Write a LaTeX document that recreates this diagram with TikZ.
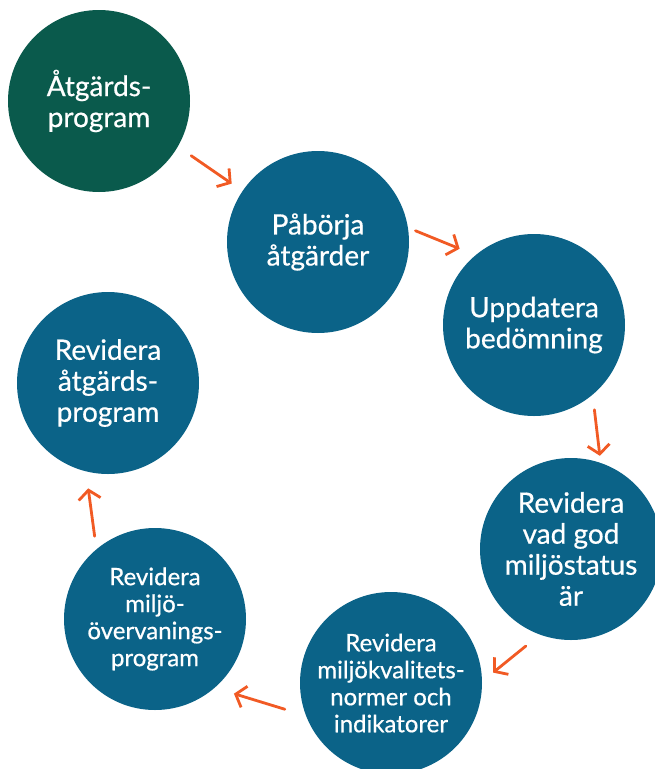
\documentclass[tikz,border=0pt]{standalone}
\usepackage{fontspec}
\setmainfont{Lato}
\newfontfamily\stepfont{Lato}[BoldFont=Lato, BoldFeatures={FakeBold=0.6}]
\usepackage{tikz}
\usetikzlibrary{arrows.meta}
\definecolor{ringgreen}{HTML}{0A5A4C}
\definecolor{ringblue}{HTML}{0B6388}
\definecolor{ringorange}{HTML}{F15A24}
\tikzset{
stepcircle/.style={circle, fill=ringblue, text=white, minimum size=182pt, inner sep=0pt,
  align=center, font=\stepfont\bfseries\fontsize{28}{31}\selectfont},
smallstep/.style={stepcircle, font=\stepfont\bfseries\fontsize{24}{27}\selectfont},
flowarrow/.style={ringorange, line width=2.8pt, line cap=round,
  -{Straight Barb[length=9pt, width=22pt, line width=2.8pt]}}
}

\begin{document}
\begin{tikzpicture}[x=1pt, y=-1pt]

\useasboundingbox (0,0) rectangle (654,769);

\node [stepcircle, fill=ringgreen] (prog) at (99,101) {Åtgärds-\\program};
\node [stepcircle] (borja) at (318,242) {Påbörja\\åtgärder};
\node [stepcircle] (uppd) at (534,325) {Uppdatera\\bedömning};
\node [stepcircle] (status) at (571,549) {Revidera\\vad god\\miljöstatus\\är};
\node [smallstep] (normer) at (391,683) {Revidera\\miljökvalitets-\\normer och\\indikatorer};
\node [smallstep] (overv) at (155,619) {Revidera\\miljö-\\övervanings-\\program};
\node [stepcircle] (revprog) at (108,383) {Revidera\\åtgärds-\\program};

% arrows between the steps
\draw [flowarrow, shorten <=16pt, shorten >=13pt] (prog.-30) -- (borja.146);
\draw [flowarrow, shorten <=8pt, shorten >=17pt] (borja.9) -- (uppd.130);
\draw [flowarrow, shorten <=15pt, shorten >=7pt] (uppd.-50) -- (status.71);
\draw [flowarrow, shorten <=18pt, shorten >=14pt] (status.250) -- (normer.1);
\draw [flowarrow, shorten <=22pt, shorten >=20pt] (normer.201) -- (overv.-49);
\draw [flowarrow, shorten <=13pt, shorten >=17pt] (overv.130) -- (revprog.256);

\end{tikzpicture}
\end{document}
